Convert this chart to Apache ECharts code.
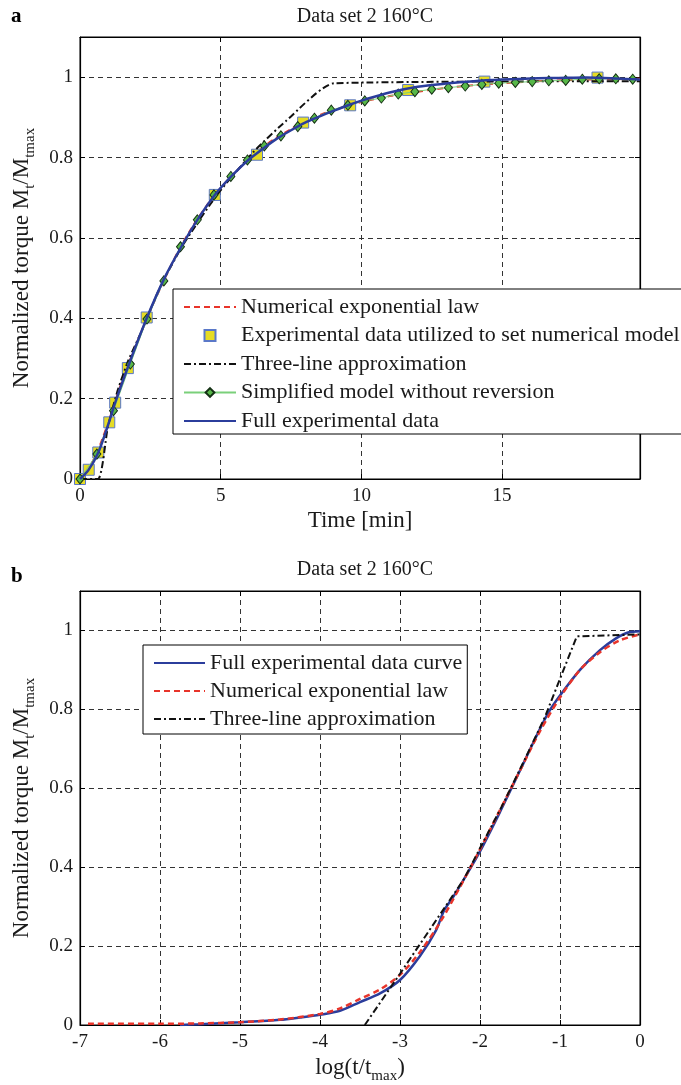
<!DOCTYPE html>
<html>
<head>
<meta charset="utf-8">
<script src="https://cdn.jsdelivr.net/npm/echarts@6/dist/echarts.min.js"></script>
<style>
  html, body { margin: 0; padding: 0; background: #fff; }
  #chart { width: 681px; height: 1085px; }
</style>
</head>
<body>
<div id="chart"></div>
<script>
// ---------- Panel a (time domain, minutes) ----------
const expTime   = [0, 0.31, 0.65, 1.04, 1.25, 1.7, 2.37, 4.79, 6.29, 7.93, 9.6, 11.66, 14.37, 18.39];
const expTorque = [0, 0.023, 0.066, 0.141, 0.19, 0.276, 0.402, 0.707, 0.807, 0.887, 0.930, 0.968, 0.989, 0.999];

const simpTime   = [0, 0.6, 1.19, 1.79, 2.38, 2.98, 3.57, 4.17, 4.76, 5.36, 5.95, 6.55, 7.14, 7.74, 8.33, 8.93, 9.52,
                    10.12, 10.71, 11.31, 11.9, 12.5, 13.09, 13.69, 14.28, 14.88, 15.47, 16.07, 16.66, 17.26, 17.85, 18.45, 19.04, 19.64];
const simpTorque = [0, 0.062, 0.17, 0.286, 0.398, 0.493, 0.578, 0.645, 0.707, 0.753, 0.794, 0.829, 0.854, 0.877, 0.898, 0.918, 0.930,
                    0.941, 0.948, 0.958, 0.964, 0.970, 0.974, 0.978, 0.982, 0.985, 0.987, 0.989, 0.991, 0.992, 0.995, 0.996, 0.996, 0.995];

const fullTime   = [0, 0.3, 0.65, 1.0, 1.25, 1.7, 2.37, 3.0, 3.6, 4.2, 4.79, 5.4, 6.0, 6.5, 7.0, 7.5, 8.0, 8.5, 9.0, 9.6, 10.2, 11, 12, 13, 14, 15, 16, 17, 18, 19, 19.9];
const fullTorque = [0, 0.022, 0.066, 0.135, 0.19, 0.278, 0.4, 0.5, 0.578, 0.648, 0.707, 0.755, 0.795, 0.822, 0.847, 0.868, 0.887, 0.902, 0.916, 0.932, 0.946, 0.962, 0.976, 0.984, 0.99, 0.994, 0.997, 0.998, 0.999, 0.997, 0.994];

const numTime   = [0, 0.3, 0.6, 1, 1.5, 2, 2.5, 3, 3.5, 4, 4.5, 5, 5.5, 6, 6.5, 7, 7.5, 8, 8.5, 9, 10, 11, 12, 13, 14, 15, 16, 17, 18, 19, 19.9];
const numTorque = [0, 0.025, 0.065, 0.14, 0.245, 0.335, 0.42, 0.497, 0.568, 0.628, 0.68, 0.724, 0.762, 0.796, 0.826, 0.85, 0.871, 0.89, 0.905, 0.918, 0.938, 0.953, 0.964, 0.973, 0.98, 0.985, 0.989, 0.992, 0.994, 0.995, 0.996];

const threeTime   = [0, 0.638, 0.991, 1.337, 1.717, 2.205, 2.83, 3.638, 4.9, 6.18, 7.32, 9.04, 19.9];
const threeTorque = [0, 0, 0.13, 0.22, 0.295, 0.37, 0.475, 0.58, 0.71, 0.815, 0.891, 0.985, 0.99];

// ---------- Panel b (log(t/tmax)) ----------
const fullLog    = [-5.75, -5.5, -5, -4.5, -4.25, -4, -3.75, -3.5, -3.25, -3, -2.75, -2.55, -2.45, -2.35, -2.2, -2, -1.75, -1.5, -1.3, -1.15, -1, -0.75, -0.5, -0.3, -0.15, 0];
const fullLogY   = [0, 0.002, 0.007, 0.013, 0.019, 0.026, 0.036, 0.058, 0.08, 0.114, 0.175, 0.24, 0.29, 0.32, 0.37, 0.44, 0.54, 0.645, 0.73, 0.79, 0.835, 0.9, 0.95, 0.98, 0.995, 0.998];

const numLog     = [-6.9, -6, -5.5, -5, -4.5, -4, -3.75, -3.5, -3.25, -3, -2.75, -2.5, -2.25, -2, -1.75, -1.5, -1.25, -1, -0.75, -0.5, -0.25, 0];
const numLogY    = [0.003, 0.003, 0.004, 0.007, 0.014, 0.028, 0.042, 0.066, 0.09, 0.127, 0.185, 0.26, 0.35, 0.445, 0.545, 0.645, 0.745, 0.83, 0.9, 0.945, 0.975, 0.99];

const threeLog   = [-3.44, -3.0, -2.7, -2.2, -1.7, -1.4, -1.19, -0.79, 0];
const threeLogY  = [0, 0.13, 0.22, 0.37, 0.565, 0.69, 0.78, 0.985, 0.99];

const yTicks = { min: 0, max: 1.1, interval: 0.2 };
const titleText = 'Data set 2 160°C';
const legendA = ['Numerical exponential law', 'Experimental data utilized to set numerical model',
                 'Three-line approximation', 'Simplified model without reversion', 'Full experimental data'];
const legendB = ['Full experimental data curve', 'Numerical exponential law', 'Three-line approximation'];

const FONT = 'Liberation Serif';
const TXT = '#1a1a1a';
const zip = (a, b) => a.map((v, i) => [v, b[i]]);

const gridLine = { show: true, lineStyle: { color: '#333', width: 1, type: [5, 4] } };
const axisLine = { show: true, onZero: false, lineStyle: { color: '#000', width: 1.2 } };
const tickIn = { show: true, inside: true, length: 5, lineStyle: { color: '#000', width: 1 } };
const lab = { color: TXT, fontFamily: FONT, fontSize: 19 };
const richName = {
  n: { fontFamily: FONT, fontSize: 23, color: TXT, lineHeight: 32 },
  s: { fontFamily: FONT, fontSize: 15, color: TXT, lineHeight: 15, verticalAlign: 'bottom' }
};

function xMain(grid, min, max, name, gap) {
  return { type: 'value', gridIndex: grid, min, max, interval: grid === 0 ? 5 : 1, position: 'bottom',
    axisLine, axisTick: tickIn, splitLine: gridLine,
    axisLabel: Object.assign({ margin: 8, showMaxLabel: grid !== 0 }, lab),
    name, nameLocation: 'middle', nameGap: gap, nameTextStyle: { rich: richName } };
}
function xMirror(grid, min, max) {
  return { type: 'value', gridIndex: grid, min, max, interval: grid === 0 ? 5 : 1, position: 'top',
    axisLine, axisTick: tickIn, splitLine: { show: false }, axisLabel: { show: false } };
}
function yMain(grid) {
  return { type: 'value', gridIndex: grid, min: yTicks.min, max: yTicks.max, interval: yTicks.interval, position: 'left',
    axisLine, axisTick: tickIn, splitLine: gridLine,
    axisLabel: Object.assign({ margin: 7, showMaxLabel: false }, lab),
    name: '{n|Normalized torque M}{s|t}{n|/M}{s|tmax}', nameLocation: 'middle', nameGap: 42,
    nameTextStyle: { rich: richName } };
}
function yMirror(grid) {
  return { type: 'value', gridIndex: grid, min: yTicks.min, max: yTicks.max, interval: yTicks.interval, position: 'right',
    axisLine, axisTick: tickIn, splitLine: { show: false }, axisLabel: { show: false } };
}

const red = '#e8342a', blue = '#2b3d9c', black = '#111111';
const hideSym = { color: 'rgba(0,0,0,0)', borderColor: 'rgba(0,0,0,0)', borderWidth: 0 };
const squareIcon = 'path://M0,0 L10,0 L10,10 L0,10 Z';

function legendItems(names) {
  return names.map(n => {
    if (n.indexOf('Experimental data utilized') === 0) return { name: n, icon: squareIcon };
    if (n.indexOf('Simplified') === 0) return { name: n };
    return { name: n, itemStyle: hideSym };
  });
}

const option = {
  animation: false,
  backgroundColor: '#ffffff',
  title: [
    { text: titleText, left: 360, top: 2, textAlign: 'center', textStyle: { fontFamily: FONT, fontSize: 20, fontWeight: 'normal', color: TXT } },
    { text: titleText, left: 360, top: 555, textAlign: 'center', textStyle: { fontFamily: FONT, fontSize: 20, fontWeight: 'normal', color: TXT } },
    { text: 'a', left: 6, top: 1, textStyle: { fontFamily: FONT, fontSize: 21, fontWeight: 'bold', color: '#000' } },
    { text: 'b', left: 6, top: 561, textStyle: { fontFamily: FONT, fontSize: 21, fontWeight: 'bold', color: '#000' } }
  ],
  grid: [
    { left: 80, width: 560, top: 37, height: 442, show: true, borderColor: '#000', borderWidth: 1, backgroundColor: 'transparent' },
    { left: 80, width: 560, top: 591, height: 434, show: true, borderColor: '#000', borderWidth: 1, backgroundColor: 'transparent' }
  ],
  xAxis: [
    xMain(0, 0, 19.9, '{n|Time [min]}', 26),
    xMirror(0, 0, 19.9),
    xMain(1, -7, 0, '{n|log(t/t}{s|max}{n|)}', 27),
    xMirror(1, -7, 0)
  ],
  yAxis: [yMain(0), yMirror(0), yMain(1), yMirror(1)],
  legend: [
    {
      orient: 'vertical', left: 173, top: 289, selectedMode: false,
      backgroundColor: '#fff', borderColor: '#000', borderWidth: 1,
      padding: [7, 10, 2, 10], itemGap: 6.5, itemWidth: 52, itemHeight: 11,
      textStyle: { fontFamily: FONT, fontSize: 22, color: TXT },
      data: legendItems(legendA)
    },
    {
      orient: 'vertical', left: 143, top: 645, selectedMode: false,
      backgroundColor: '#fff', borderColor: '#000', borderWidth: 1,
      padding: [7, 5, 4, 10], itemGap: 6, itemWidth: 51, itemHeight: 11,
      textStyle: { fontFamily: FONT, fontSize: 22, color: TXT },
      data: legendItems(legendB)
    }
  ],
  series: [
    // panel a
    { name: legendA[0], type: 'line', xAxisIndex: 0, yAxisIndex: 0, data: zip(numTime, numTorque),
      symbol: 'none', smooth: 0.3, color: red, lineStyle: { color: red, width: 2, type: [6, 4] }, z: 2 },
    { name: legendA[1], type: 'scatter', xAxisIndex: 0, yAxisIndex: 0,
      data: zip(expTime, expTorque), symbol: 'rect', symbolSize: 11, color: '#e6dc24',
      itemStyle: { color: '#e6dc24', borderColor: '#5a78c8', borderWidth: 1, opacity: 1 }, z: 3 },
    { name: legendA[2], type: 'line', xAxisIndex: 0, yAxisIndex: 0, data: zip(threeTime, threeTorque),
      symbol: 'none', smooth: 0.2, color: black, lineStyle: { color: black, width: 2, type: [7, 3, 2, 3] }, z: 4 },
    { name: legendA[3], type: 'line', xAxisIndex: 0, yAxisIndex: 0, data: zip(simpTime, simpTorque),
      symbol: 'diamond', symbolSize: [8, 10], showSymbol: true, color: '#58b848',
      itemStyle: { color: '#58b848', borderColor: '#143014', borderWidth: 1 },
      lineStyle: { color: '#7ad07a', width: 1 }, z: 5 },
    { name: legendA[4], type: 'line', xAxisIndex: 0, yAxisIndex: 0, data: zip(fullTime, fullTorque),
      symbol: 'none', smooth: 0.3, color: blue, lineStyle: { color: blue, width: 2.5 }, z: 6 },
    // panel b
    { name: legendB[0], type: 'line', xAxisIndex: 2, yAxisIndex: 2, data: zip(fullLog, fullLogY),
      symbol: 'none', smooth: 0.3, color: blue, lineStyle: { color: blue, width: 2.5 }, z: 2 },
    { name: legendB[1], type: 'line', xAxisIndex: 2, yAxisIndex: 2, data: zip(numLog, numLogY),
      symbol: 'none', smooth: 0.3, color: red, lineStyle: { color: red, width: 2.5, type: [6, 4] }, z: 3 },
    { name: legendB[2], type: 'line', xAxisIndex: 2, yAxisIndex: 2, data: zip(threeLog, threeLogY),
      symbol: 'none', smooth: false, color: black, lineStyle: { color: black, width: 2, type: [7, 3, 2, 3] }, z: 4 }
  ]
};

const chart = echarts.init(document.getElementById('chart'), null, { renderer: 'canvas' });
chart.setOption(option);
</script>
</body>
</html>
